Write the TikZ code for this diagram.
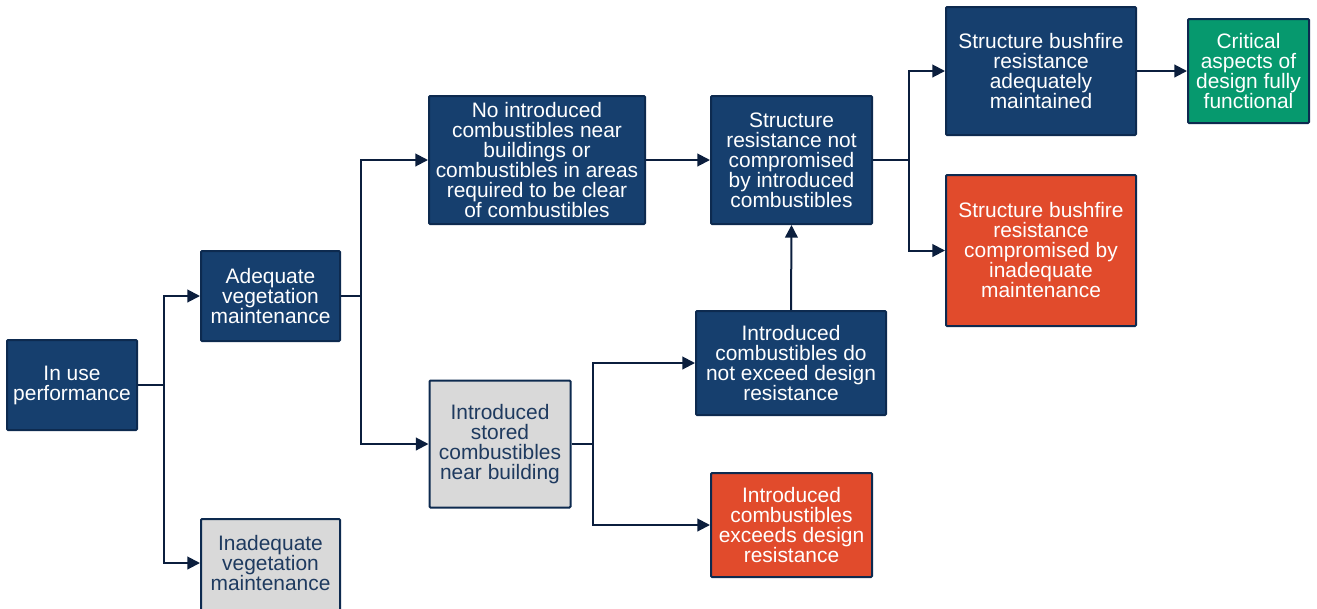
\documentclass[tikz,border=0pt]{standalone}
\usepackage{fontspec}
\setmainfont{Liberation Sans}
\usetikzlibrary{arrows.meta}
\definecolor{navy}{HTML}{163F6E}
\definecolor{navyedge}{HTML}{0D2A4F}
\definecolor{linec}{HTML}{0B1E3D}
\definecolor{greyfill}{HTML}{D9D9D9}
\definecolor{greytext}{HTML}{1E3A5F}
\definecolor{redfill}{HTML}{E14B2C}
\definecolor{greenfill}{HTML}{06996E}
\tikzset{
  box/.style={draw=navyedge, line width=1.5pt, rectangle, rounded corners=0.8pt, inner sep=0pt, align=center,
    font=\fontsize{15.7pt}{15pt}\selectfont},
  bluebox/.style={box, fill=navy, text=white},
  greybox/.style={box, fill=greyfill, text=greytext},
  redbox/.style={box, fill=redfill, text=white},
  greenbox/.style={box, fill=greenfill, text=white},
  conn/.style={draw=linec, line width=1.5pt, -{Triangle[length=9.5pt,width=9.5pt]}},
  sz/.style 2 args={minimum width=#1*0.75pt, minimum height=#2*0.75pt}
}
\begin{document}
\begin{tikzpicture}[x=0.75pt, y=-0.75pt]
\useasboundingbox (0,0) rectangle (1317,608);
\node[bluebox, sz={130}{90}] (a) at (72,385) {In use\\performance};
\node[bluebox, sz={139}{90}] (b) at (270.5,296) {Adequate\\vegetation\\maintenance};
% grey box running off the bottom edge
\path[fill=greyfill, draw=navyedge, line width=1.5pt, rounded corners=0.8pt] (201,519) rectangle (340,616);
\node[greybox, draw=none, fill=none, sz={139}{90}] (c) at (270.5,563) {Inadequate\\vegetation\\maintenance};
\node[bluebox, sz={216}{128}] (d) at (537,160) {No introduced\\combustibles near\\buildings or\\combustibles in areas\\required to be clear\\of combustibles};
\node[greybox, sz={141}{127}] (e) at (500,444) {Introduced\\stored\\combustibles\\near building};
\node[bluebox, sz={161}{128}] (f) at (791.5,160) {Structure\\resistance not\\compromised\\by introduced\\combustibles};
\node[bluebox, sz={190}{104}] (g) at (791,363) {Introduced\\combustibles do\\not exceed design\\resistance};
\node[redbox, sz={161}{104}] (h) at (791.5,525) {Introduced\\combustibles\\exceeds design\\resistance};
\node[bluebox, sz={190}{128}] (i) at (1041,71) {Structure bushfire\\resistance\\adequately\\maintained};
\node[redbox, sz={190}{151}] (j) at (1041,250.5) {Structure bushfire\\resistance\\compromised by\\inadequate\\maintenance};
\node[greenbox, sz={121}{104}] (k) at (1248.5,71) {Critical\\aspects of\\design fully\\functional};
% connectors
\draw[conn] (a.east) -| (164,296) -- (b.west);
\draw[conn] (a.east) -| (164,563) -- (c.west);
\draw[conn] (b.east) -| (361,160) -- (d.west);
\draw[conn] (b.east) -| (361,444) -- (e.west);
\draw[conn] (d.east) -- (f.west);
\draw[conn] (e.east) -| (593,363) -- (g.west);
\draw[conn] (e.east) -| (593,525) -- (h.west);
\draw[conn] (g.north) -- (f.south);
\draw[conn] (f.east) -| (909,71) -- (i.west);
\draw[conn] (f.east) -| (909,250.5) -- (j.west);
\draw[conn] (i.east) -- (k.west);
\end{tikzpicture}
\end{document}
